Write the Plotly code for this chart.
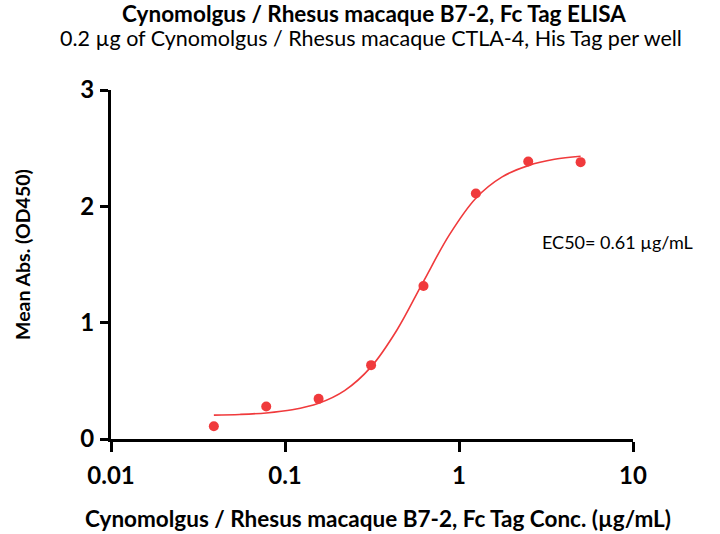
import plotly.graph_objects as go

conc = [0.039, 0.078, 0.156, 0.3125, 0.625, 1.25, 2.5, 5.0]
od450 = [0.11, 0.28, 0.345, 0.635, 1.315, 2.11, 2.385, 2.38]

fit_x = [0.039, 0.055, 0.078, 0.11, 0.156, 0.22, 0.3125, 0.44, 0.625, 0.88, 1.25, 1.77, 2.5, 3.54, 5.0]
fit_y = [0.205, 0.211, 0.224, 0.251, 0.307, 0.416, 0.62, 0.937, 1.355, 1.755, 2.07, 2.253, 2.35, 2.404, 2.43]

x_ticks = [0.01, 0.1, 1, 10]
x_tick_labels = ["0.01", "0.1", "1", "10"]
y_ticks = [0, 1, 2, 3]

title_text = "Cynomolgus / Rhesus macaque B7-2, Fc Tag ELISA"
subtitle_text = "0.2 µg of Cynomolgus / Rhesus macaque CTLA-4, His Tag per well"
x_title = "Cynomolgus / Rhesus macaque B7-2, Fc Tag Conc. (µg/mL)"
y_title = "Mean Abs. (OD450)"
ec50_text = "EC50= 0.61 µg/mL"

red = "#f03a3c"
font = "Lato"
H = 534.0

fig = go.Figure()
fig.add_trace(go.Scatter(x=fit_x, y=fit_y, mode="lines",
                         line=dict(color=red, width=1.6, shape="spline"),
                         hoverinfo="skip", showlegend=False))
fig.add_trace(go.Scatter(x=conc, y=od450, mode="markers",
                         marker=dict(color=red, size=10),
                         showlegend=False))

fig.update_layout(
    width=720, height=534,
    margin=dict(l=111, r=87, t=90, b=95, autoexpand=False),
    plot_bgcolor="white", paper_bgcolor="white",
    font=dict(family=font, color="black"),
    title=dict(
        text="<b>" + title_text + "</b>",
        x=374 / 720, xref="container", xanchor="center",
        y=1 - 14 / H, yref="container", yanchor="middle",
        font=dict(size=22.5, family=font, color="black"),
    ),
    xaxis=dict(
        type="log", range=[-2, 1],
        tickvals=x_ticks, ticktext=x_tick_labels,
        showline=True, linecolor="black", linewidth=3,
        ticks="outside", ticklen=10, tickwidth=3, tickcolor="black",
        showgrid=False, zeroline=False,
        tickfont=dict(size=24, family=font, weight="bold"),
        ticklabelstandoff=3,
    ),
    yaxis=dict(
        range=[0, 3], tickvals=y_ticks,
        showline=True, linecolor="black", linewidth=3,
        ticks="outside", ticklen=8, tickwidth=3, tickcolor="black",
        showgrid=False, zeroline=False,
        tickfont=dict(size=24, family=font, weight="bold"),
        ticklabelstandoff=1,
    ),
    annotations=[
        dict(text=subtitle_text, x=0.5 + (371 - 372) / 522, xref="paper",
             y=(439 - 38) / 349, yref="paper",
             xanchor="center", yanchor="middle", showarrow=False,
             font=dict(size=21.5, family=font, color="black")),
        dict(text="<b>" + x_title + "</b>", x=(378 - 111) / 522, xref="paper",
             y=-(518 - 439) / 349, yref="paper",
             xanchor="center", yanchor="middle", showarrow=False,
             font=dict(size=22.5, family=font, color="black")),
        dict(text="<b>" + y_title + "</b>", x=-(111 - 22) / 522, xref="paper",
             y=(439 - 255) / 349, yref="paper", textangle=-90,
             xanchor="center", yanchor="middle", showarrow=False,
             font=dict(size=19.5, family=font, color="black")),
        dict(text=ec50_text, x=0.822, xref="paper", y=1.69, yref="y",
             xanchor="left", yanchor="middle", showarrow=False,
             font=dict(size=18, family=font, color="black")),
    ],
)

fig.write_html("out.html", config={"displayModeBar": False},
               post_script="document.body.style.margin='0';")
